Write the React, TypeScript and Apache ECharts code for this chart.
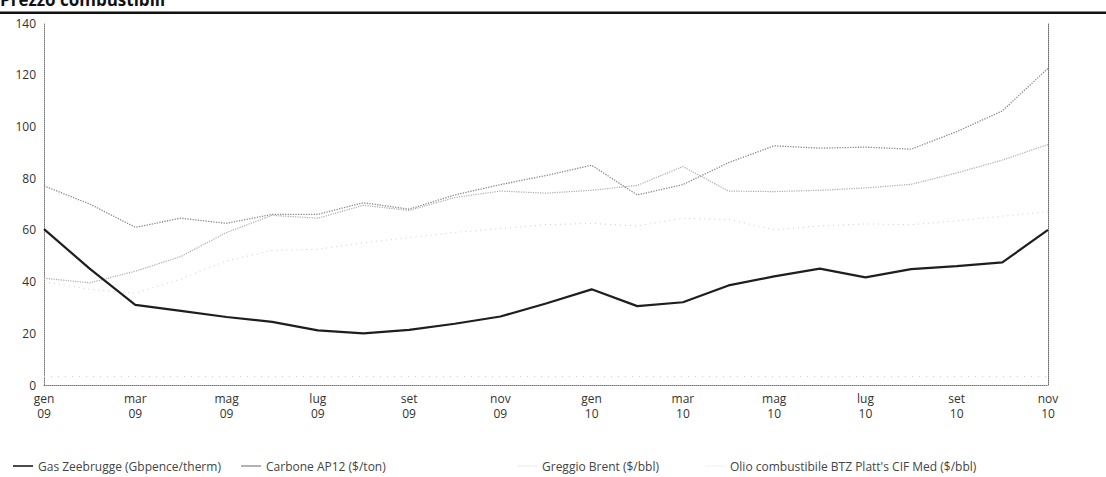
import React, { useEffect, useRef } from 'react';
import * as echarts from 'echarts';

const months = [
  'gen\n09', 'feb\n09', 'mar\n09', 'apr\n09', 'mag\n09', 'giu\n09', 'lug\n09', 'ago\n09',
  'set\n09', 'ott\n09', 'nov\n09', 'dic\n09', 'gen\n10', 'feb\n10', 'mar\n10', 'apr\n10',
  'mag\n10', 'giu\n10', 'lug\n10', 'ago\n10', 'set\n10', 'ott\n10', 'nov\n10',
];

const gasZeebrugge = [60.3, 45, 31, 28.7, 26.3, 24.4, 21.1, 20, 21.3, 23.7, 26.5, 31.5, 37, 30.5, 32, 38.5, 42, 45, 41.6, 44.8, 46, 47.4, 60];
const carboneAP12 = [77, 70, 61, 64.5, 62.5, 66, 66, 70.5, 68, 73.5, 77.5, 81, 85, 73.5, 77.5, 86, 92.5, 91.6, 92, 91.2, 98, 106, 122.5];
const greggioBrent = [41.3, 39.5, 44, 49.7, 59, 65.6, 64.5, 69.5, 67.5, 72.5, 75, 74.2, 75.3, 77.2, 84.5, 75, 74.8, 75.3, 76.2, 77.6, 82, 87, 93];
const olioBTZ = [40, 37, 35.5, 41, 48, 52, 52.5, 55, 57, 59, 60.5, 62, 62.5, 61.5, 64.5, 64, 60, 61.5, 62.3, 62, 63.5, 65.3, 67];

const seriesNames = [
  'Gas Zeebrugge (Gbpence/therm)',
  'Carbone AP12 ($/ton)',
  'Greggio Brent ($/bbl)',
  "Olio combustibile BTZ Platt's CIF Med ($/bbl)",
];

const yTicks = { min: 0, max: 140, interval: 20 };
const FONT = '"Open Sans", "Noto Sans", sans-serif';

export default function App() {
  const ref = useRef<HTMLDivElement>(null);
  useEffect(() => {
    if (!ref.current) return;
    const chart = echarts.init(ref.current, null, { renderer: 'svg' });
    const legendBase = {
      top: 455,
      itemWidth: 20,
      itemHeight: 1.6,
      icon: 'rect',
      itemGap: 6,
      textStyle: { fontSize: 12, color: '#444', fontFamily: FONT },
      selectedMode: false,
    };
    chart.setOption({
      animation: false,
      backgroundColor: '#fff',
      textStyle: { fontFamily: FONT },
      graphic: [
        {
          type: 'text',
          x: 0,
          y: -9,
          style: {
            text: 'Prezzo combustibili',
            font: 'bold 17px ' + FONT,
            fill: '#111',
            verticalAlign: 'top',
          },
        },
        { type: 'rect', shape: { x: 0, y: 11.5, width: 1106, height: 2.5 }, style: { fill: '#111' } },
      ],
      grid: { left: 44, right: 58, top: 23, bottom: 92 },
      legend: [
        { ...legendBase, left: 8, data: [seriesNames[0]] },
        { ...legendBase, left: 236, data: [seriesNames[1]] },
        { ...legendBase, left: 512, data: [seriesNames[2]] },
        { ...legendBase, left: 700, data: [seriesNames[3]] },
      ],
      xAxis: {
        type: 'category',
        data: months,
        boundaryGap: false,
        axisLine: { show: true, lineStyle: { color: '#777', type: 'dotted', width: 1 } },
        axisTick: { show: false },
        axisLabel: { interval: 1, color: '#333', fontSize: 12, lineHeight: 15, margin: 6, fontFamily: FONT },
        splitLine: { show: false },
      },
      yAxis: [
        {
          type: 'value',
          ...yTicks,
          axisLine: { show: true, lineStyle: { color: '#777', type: 'dotted', width: 1 } },
          axisTick: { show: false },
          axisLabel: { color: '#333', fontSize: 12, margin: 8, fontFamily: FONT },
          splitLine: { show: false },
        },
        {
          type: 'value',
          position: 'right',
          ...yTicks,
          axisLine: { show: true, lineStyle: { color: '#666', type: 'dotted', width: 1 } },
          axisTick: { show: false },
          axisLabel: { show: false },
          splitLine: { show: false },
        },
      ],
      series: [
        {
          name: seriesNames[0],
          type: 'line',
          data: gasZeebrugge,
          symbol: 'none',
          lineStyle: { color: '#1e1e1e', width: 2.2 },
          itemStyle: { color: '#1e1e1e' },
          z: 5,
        },
        {
          name: seriesNames[1],
          type: 'line',
          data: carboneAP12,
          symbol: 'none',
          lineStyle: { color: '#8a8a8a', width: 1.3, type: 'dotted' },
          itemStyle: { color: '#a0a0a0' },
        },
        {
          name: seriesNames[2],
          type: 'line',
          data: greggioBrent,
          symbol: 'none',
          lineStyle: { color: '#ababab', width: 1.2, type: 'dotted' },
          itemStyle: { color: '#f2f2f2' },
        },
        {
          name: seriesNames[3],
          type: 'line',
          data: olioBTZ,
          symbol: 'none',
          lineStyle: { color: '#cccccc', width: 1, type: [1, 4] },
          itemStyle: { color: '#f6f6f6' },
          markLine: {
            silent: true,
            symbol: 'none',
            label: { show: false },
            lineStyle: { color: '#cfcfcf', type: [1, 6], width: 1 },
            data: [{ yAxis: 3.5 }],
          },
        },
      ],
    });
    return () => chart.dispose();
  }, []);
  return (
    <div
      ref={ref}
      style={{ position: 'fixed', left: 0, top: 0, width: 1106, height: 477, background: '#fff' }}
    />
  );
}
